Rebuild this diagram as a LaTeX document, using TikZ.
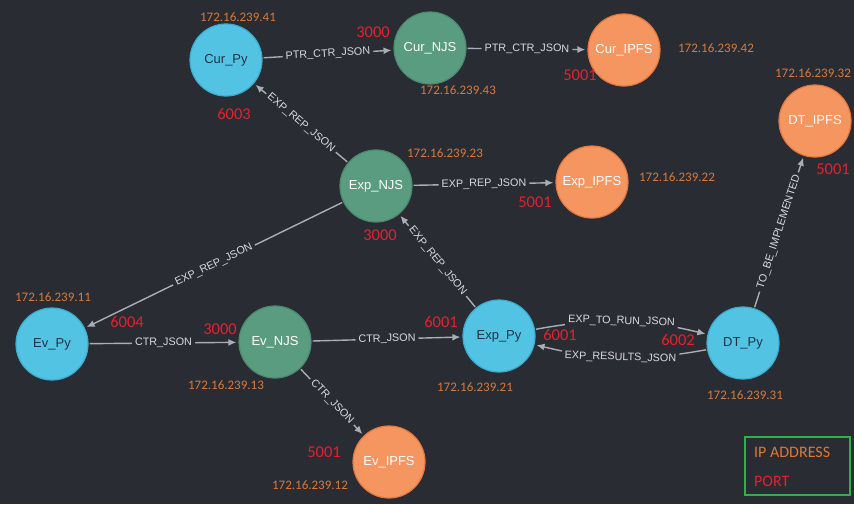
\documentclass[tikz,border=0pt]{standalone}
\usepackage{fontspec}
\setmainfont{Liberation Sans}
\newfontfamily\calfont{Carlito}
\usetikzlibrary{arrows.meta}
\definecolor{bg}{HTML}{2A2C33}
\definecolor{pyfill}{HTML}{52C3E2}
\definecolor{pyborder}{HTML}{3AAED0}
\definecolor{pytext}{HTML}{1F3347}
\definecolor{njsfill}{HTML}{5A9C7F}
\definecolor{njsborder}{HTML}{4A8A6E}
\definecolor{ipfsfill}{HTML}{F5955F}
\definecolor{ipfsborder}{HTML}{E6773F}
\definecolor{edgecol}{HTML}{A9ADB5}
\definecolor{labelcol}{HTML}{D8DADF}
\definecolor{ipcol}{HTML}{D9793A}
\definecolor{portcol}{HTML}{E5202E}
\definecolor{legendgreen}{HTML}{2FB14A}
\begin{document}
\begin{tikzpicture}[x=1pt,y=1pt,
  base/.style={circle, minimum size=72pt, inner sep=0pt, line width=1.2pt, font=\fontsize{13}{13}\selectfont},
  pynode/.style={base, fill=pyfill, draw=pyborder, text=pytext},
  njsnode/.style={base, fill=njsfill, draw=njsborder, text=white},
  ipfsnode/.style={base, fill=ipfsfill, draw=ipfsborder, text=white},
  edge/.style={draw=edgecol, line width=1.4pt, -{Latex[length=8pt,width=7pt]}, shorten >=2pt, shorten <=1pt},
  elabel/.style={fill=bg, text=labelcol, font=\fontsize{10.8}{10.8}\selectfont, inner sep=3pt, sloped},
  ip/.style={text=ipcol, font=\calfont\fontsize{13}{13}\selectfont, inner sep=0pt},
  port/.style={text=portcol, font=\calfont\fontsize{16.5}{16.5}\selectfont, inner sep=0pt},
]
\useasboundingbox (0,0) rectangle (854,-504);
\fill[bg] (0,0) rectangle (854,-504);

% nodes
\node[pynode] (curpy) at (226,-60) {Cur\_Py};
\node[njsnode] (curnjs) at (430,-48) {Cur\_NJS};
\node[ipfsnode] (curipfs) at (624,-50) {Cur\_IPFS};
\node[ipfsnode] (dtipfs) at (815,-121) {DT\_IPFS};
\node[njsnode] (expnjs) at (376,-186) {Exp\_NJS};
\node[ipfsnode] (expipfs) at (592,-182) {Exp\_IPFS};
\node[pynode] (evpy) at (52,-344) {Ev\_Py};
\node[njsnode] (evnjs) at (275,-342) {Ev\_NJS};
\node[pynode] (exppy) at (499,-336) {Exp\_Py};
\node[pynode] (dtpy) at (743,-343) {DT\_Py};
\node[ipfsnode] (evipfs) at (389,-462) {Ev\_IPFS};

% edges
\draw[edge] (curpy) -- node[elabel] {PTR\_CTR\_JSON} (curnjs);
\draw[edge] (curnjs) -- node[elabel] {PTR\_CTR\_JSON} (curipfs);
\draw[edge] (expnjs) -- node[elabel] {EXP\_REP\_JSON} (curpy);
\draw[edge] (expnjs) -- node[elabel] {EXP\_REP\_JSON} (expipfs);
\draw[edge] (expnjs) -- node[elabel] {EXP\_REP\_JSON} (evpy);
\draw[edge] (exppy) -- node[elabel] {EXP\_REP\_JSON} (expnjs);
\draw[edge] (evpy) -- node[elabel] {CTR\_JSON} (evnjs);
\draw[edge] (evnjs) -- node[elabel] {CTR\_JSON} (exppy);
\draw[edge] (evnjs) -- node[elabel] {CTR\_JSON} (evipfs);
\draw[edge] (exppy) to[bend left=12] node[elabel] {EXP\_TO\_RUN\_JSON} (dtpy);
\draw[edge] (dtpy) to[bend left=12] node[elabel] {EXP\_RESULTS\_JSON} (exppy);
\draw[edge] (dtpy) -- node[elabel] {TO\_BE\_IMPLEMENTED} (dtipfs);

% IP addresses
\node[ip] (ip41) at (238,-17) {172.16.239.41};
\node[ip] (ip43) at (458,-90) {172.16.239.43};
\node[ip] (ip42) at (716,-48) {172.16.239.42};
\node[ip] (ip32) at (813,-73) {172.16.239.32};
\node[ip] (ip23) at (445,-153) {172.16.239.23};
\node[ip] (ip22) at (677,-177) {172.16.239.22};
\node[ip] (ip11) at (53,-297) {172.16.239.11};
\node[ip] (ip13) at (226,-385) {172.16.239.13};
\node[ip] (ip21) at (475,-387) {172.16.239.21};
\node[ip] (ip31) at (745,-395) {172.16.239.31};
\node[ip] (ip12) at (310,-485) {172.16.239.12};

% ports
\node[port] (p6003) at (234,-114) {6003};
\node[port] (p3000a) at (373,-32) {3000};
\node[port] (p5001a) at (580,-75) {5001};
\node[port] (p5001b) at (833,-169) {5001};
\node[port] (p5001c) at (535,-202) {5001};
\node[port] (p3000b) at (380,-235) {3000};
\node[port] (p6004) at (127,-322) {6004};
\node[port] (p3000c) at (220,-329) {3000};
\node[port] (p6001a) at (441,-322) {6001};
\node[port] (p6001b) at (560,-335) {6001};
\node[port] (p6002) at (678,-340) {6002};
\node[port] (p5001d) at (324,-452) {5001};

% legend
\node[draw=legendgreen, line width=1.6pt, minimum width=105pt, minimum height=58pt, inner sep=0pt] (legend) at (797.5,-466) {};
\node[anchor=west, text=ipcol, font=\calfont\fontsize{16}{16}\selectfont, inner sep=0pt] (legip) at (754,-452) {IP ADDRESS};
\node[anchor=west, text=portcol, font=\calfont\fontsize{16}{16}\selectfont, inner sep=0pt] (legport) at (754,-481) {PORT};
\end{tikzpicture}
\end{document}
